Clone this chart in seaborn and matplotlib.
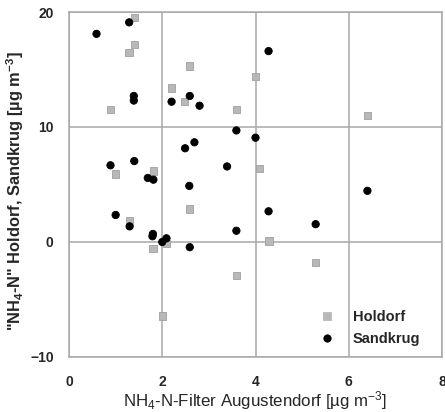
import matplotlib
matplotlib.use("Agg")
import matplotlib.pyplot as plt
import seaborn as sns
import pandas as pd

# Holdorf (grey squares)
holdorf_x = [1.41, 1.41, 1.29, 0.89, 2.20, 2.48, 2.58, 3.59, 4.00, 6.40, 4.08,
             1.00, 1.81, 2.58, 1.30, 1.80, 2.09, 2.00, 4.29, 5.29, 3.59]
holdorf_y = [19.5, 17.2, 16.5, 11.55, 13.4, 12.2, 15.3, 11.5, 14.4, 11.0, 6.37,
             5.9, 6.17, 2.87, 1.85, -0.55, -0.15, -6.43, 0.1, -1.8, -2.93]

# Sandkrug (black circles)
sandkrug_x = [0.59, 1.29, 1.39, 1.39, 2.20, 2.59, 2.80, 3.59, 4.28, 6.40, 4.00,
              3.39, 0.89, 1.40, 1.69, 1.81, 2.49, 2.69, 2.58, 1.00, 1.30, 1.79,
              1.80, 2.00, 2.09, 2.59, 3.59, 4.28, 5.29]
sandkrug_y = [18.1, 19.1, 12.7, 12.3, 12.2, 12.7, 11.85, 9.7, 16.6, 4.45, 9.07,
              6.57, 6.67, 7.04, 5.57, 5.42, 8.15, 8.67, 4.88, 2.35, 1.36, 0.5,
              0.7, 0.0, 0.32, -0.45, 0.98, 2.67, 1.55]

x_ticks = [0, 2, 4, 6, 8]
y_ticks = [-10, 0, 10, 20]

df = pd.DataFrame({
    "x": holdorf_x + sandkrug_x,
    "y": holdorf_y + sandkrug_y,
    "Station": ["Holdorf"] * len(holdorf_x) + ["Sandkrug"] * len(sandkrug_x),
})

sns.set_style("white")
plt.rcParams["font.family"] = ["Liberation Sans", "DejaVu Sans"]
plt.rcParams["mathtext.fontset"] = "custom"
plt.rcParams["mathtext.rm"] = "Liberation Sans"
plt.rcParams["mathtext.bf"] = "Liberation Sans:bold"
plt.rcParams["mathtext.default"] = "regular"

grid_c = "#a8a8a8"
fig = plt.figure(figsize=(4.45, 4.12), dpi=100)
ax = fig.add_axes([69/445, 1-357/412, (442-69)/445, (357-12)/412])

sns.scatterplot(data=df, x="x", y="y", hue="Station", style="Station",
                palette={"Holdorf": "#b8b8b8", "Sandkrug": "black"},
                markers={"Holdorf": "s", "Sandkrug": "o"},
                s=28, linewidth=0.6, edgecolor=None, ax=ax, zorder=3)
coll = ax.collections[0]
ec = ["#a0a0a0" if st == "Holdorf" else "black" for st in df["Station"]]
coll.set_edgecolors(ec)

ax.set_xlim(0, 8)
ax.set_ylim(-10, 20)
ax.set_xticks(x_ticks)
ax.set_yticks(y_ticks)
ax.grid(True, color=grid_c, linewidth=1.1)
ax.set_axisbelow(True)
for sp in ax.spines.values():
    sp.set_color(grid_c)
    sp.set_linewidth(1.1)
ax.tick_params(axis="both", direction="out", length=7, width=1.1, color=grid_c,
               labelsize=10)
ax.tick_params(axis="x", pad=6)
ax.tick_params(axis="y", pad=4)
for lab in ax.get_xticklabels() + ax.get_yticklabels():
    lab.set_fontweight("bold")

ax.set_xlabel(r"NH$_4$-N-Filter Augustendorf [µg m$^{-3}$]", fontsize=12.2, labelpad=0)
ax.set_ylabel(r'"NH$_4$-N" Holdorf, Sandkrug [µg m$^{-3}$]', fontsize=11.8,
              fontweight="bold")
ax.yaxis.set_label_coords(-0.115, 0.48)

h, l = ax.get_legend_handles_labels()
leg = ax.legend(h, l, frameon=False, loc="upper left", bbox_to_anchor=(0.652, 0.157),
                borderpad=0, handlelength=1.0, handletextpad=1.3, labelspacing=0.55,
                prop={"weight": "bold", "size": 10.5})

fig.savefig("out.png", dpi=100)
